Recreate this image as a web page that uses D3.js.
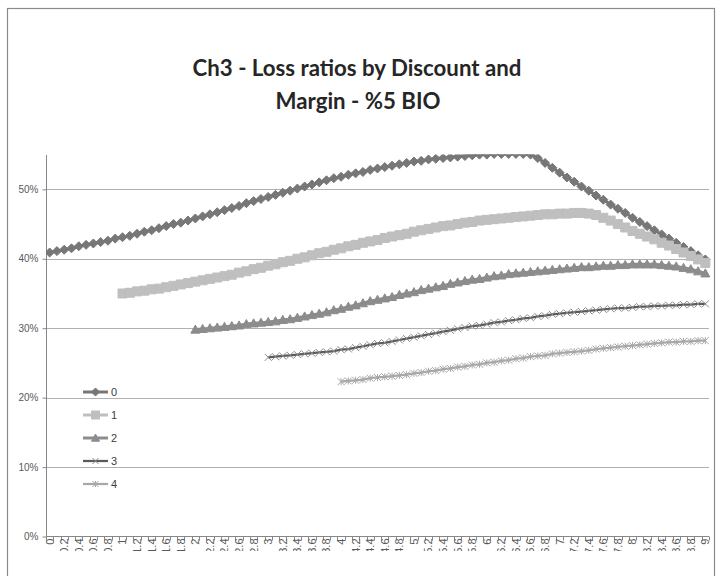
<!DOCTYPE html>
<html>
<head>
<meta charset="utf-8">
<script src="https://cdn.jsdelivr.net/npm/d3@7"></script>
<style>
  html, body { margin: 0; padding: 0; background: #fff; }
  svg { display: block; }
</style>
</head>
<body>
<svg id="chart" width="719" height="576"></svg>
<script>
// ---------------- DATA ----------------
const categories = ["0","0.1","0.2","0.3","0.4","0.5","0.6","0.7","0.8","0.9",
  "1","1.1","1.2","1.3","1.4","1.5","1.6","1.7","1.8","1.9",
  "2","2.1","2.2","2.3","2.4","2.5","2.6","2.7","2.8","2.9",
  "3","3.1","3.2","3.3","3.4","3.5","3.6","3.7","3.8","3.9",
  "4","4.1","4.2","4.3","4.4","4.5","4.6","4.7","4.8","4.9",
  "5","5.1","5.2","5.3","5.4","5.5","5.6","5.7","5.8","5.9",
  "6","6.1","6.2","6.3","6.4","6.5","6.6","6.7","6.8","6.9",
  "7","7.1","7.2","7.3","7.4","7.5","7.6","7.7","7.8","7.9",
  "8","8.1","8.2","8.3","8.4","8.5","8.6","8.7","8.8","8.9","9"];

const xTickLabels = ["0","0.2","0.4","0.6","0.8","1","1.2","1.4","1.6","1.8",
  "2","2.2","2.4","2.6","2.8","3","3.2","3.4","3.6","3.8",
  "4","4.2","4.4","4.6","4.8","5","5.2","5.4","5.6","5.8",
  "6","6.2","6.4","6.6","6.8","7","7.2","7.4","7.6","7.8",
  "8","8.2","8.4","8.6","8.8","9"];

const yTicks = [0, 0.1, 0.2, 0.3, 0.4, 0.5];
const yTickLabels = ["0%","10%","20%","30%","40%","50%"];

const seriesNames = ["0","1","2","3","4"];
const seriesStart = ["0","1","2","3","4"];   // first category of each series

const series0 = [0.409,0.411,0.413,0.415,0.418,0.420,0.422,0.424,0.426,0.429,
  0.431,0.433,0.436,0.439,0.441,0.444,0.447,0.450,0.452,0.455,
  0.458,0.461,0.464,0.467,0.470,0.473,0.476,0.480,0.483,0.486,
  0.489,0.492,0.495,0.498,0.501,0.504,0.507,0.510,0.513,0.516,
  0.518,0.521,0.523,0.525,0.528,0.530,0.532,0.534,0.536,0.538,
  0.540,0.541,0.543,0.544,0.545,0.546,0.547,0.548,0.549,0.550,
  0.550,0.551,0.551,0.551,0.551,0.551,0.550,0.545,0.538,0.531,
  0.524,0.517,0.511,0.504,0.498,0.491,0.485,0.478,0.472,0.466,
  0.459,0.453,0.447,0.441,0.435,0.429,0.423,0.417,0.411,0.405,0.399];

const series1 = [0.350,0.351,0.353,0.354,0.356,0.357,0.359,0.361,0.363,0.365,
  0.367,0.369,0.371,0.373,0.375,0.377,0.380,0.382,0.385,0.387,
  0.390,0.392,0.395,0.397,0.400,0.402,0.405,0.408,0.410,0.413,
  0.415,0.418,0.420,0.423,0.425,0.427,0.430,0.432,0.434,0.436,
  0.439,0.441,0.443,0.445,0.447,0.448,0.450,0.452,0.453,0.455,
  0.456,0.457,0.458,0.459,0.460,0.461,0.462,0.463,0.464,0.464,
  0.465,0.465,0.466,0.466,0.465,0.463,0.459,0.455,0.450,0.445,
  0.440,0.436,0.432,0.428,0.423,0.419,0.414,0.409,0.404,0.399,0.394];

const series2 = [0.298,0.299,0.300,0.301,0.302,0.303,0.304,0.306,0.307,0.308,
  0.309,0.310,0.312,0.313,0.315,0.317,0.319,0.321,0.323,0.326,
  0.328,0.331,0.333,0.336,0.339,0.341,0.343,0.345,0.348,0.350,
  0.352,0.355,0.357,0.359,0.361,0.364,0.366,0.368,0.370,0.371,
  0.373,0.375,0.376,0.378,0.379,0.380,0.381,0.382,0.383,0.384,
  0.385,0.386,0.387,0.388,0.388,0.389,0.390,0.390,0.391,0.391,
  0.392,0.392,0.392,0.392,0.391,0.390,0.389,0.387,0.385,0.382,0.379];

const series3 = [0.258,0.259,0.260,0.261,0.262,0.263,0.264,0.265,0.266,0.267,
  0.269,0.270,0.272,0.274,0.276,0.278,0.279,0.281,0.283,0.285,
  0.287,0.289,0.291,0.293,0.295,0.297,0.299,0.301,0.303,0.304,
  0.306,0.308,0.309,0.311,0.312,0.314,0.315,0.317,0.318,0.320,
  0.321,0.322,0.323,0.324,0.325,0.326,0.327,0.328,0.329,0.329,
  0.330,0.331,0.331,0.332,0.332,0.333,0.333,0.334,0.334,0.335,0.335];

const series4 = [0.223,0.224,0.225,0.226,0.228,0.229,0.230,0.231,0.232,0.233,
  0.235,0.236,0.238,0.239,0.241,0.242,0.244,0.245,0.247,0.248,
  0.250,0.251,0.253,0.254,0.256,0.257,0.259,0.260,0.261,0.263,
  0.264,0.265,0.266,0.267,0.268,0.270,0.271,0.272,0.273,0.274,
  0.275,0.276,0.277,0.278,0.279,0.280,0.280,0.281,0.281,0.282,0.282];

const titleLines = ["Ch3 - Loss ratios by Discount and", "Margin - %5 BIO"];

// ---------------- LAYOUT ----------------
const W = 719, H = 576;
const plot = { left: 46, right: 709, top: 154.6, bottom: 536.5 };
const svg = d3.select("#chart");

// outer chart border (chart continues below the visible frame)
svg.append("rect")
  .attr("x", 7.5).attr("y", 8.5).attr("width", 707).attr("height", 600)
  .attr("fill", "#fff").attr("stroke", "#8a8a8a").attr("stroke-width", 1.2);

// scales
const x = d3.scaleBand().domain(categories).range([plot.left, plot.right]).paddingInner(0).paddingOuter(0);
const cx = c => x(c) + x.bandwidth() / 2;
const y = d3.scaleLinear().domain([0, 0.55]).range([plot.bottom, plot.top]);

// title
const titleG = svg.append("g");
const tFont = "Lato, 'Open Sans', sans-serif";
const t1 = titleG.append("text").attr("x", 357).attr("y", 76)
  .attr("text-anchor", "middle").attr("font-family", tFont).attr("font-weight", 700)
  .attr("font-size", 21).attr("fill", "#262626").text(titleLines[0]);
// fit the title width to the reference (~329px)
const len1 = t1.node().getComputedTextLength();
const fs = 21 * 329 / len1;
t1.attr("font-size", fs);
titleG.append("text").attr("x", 358).attr("y", 109)
  .attr("text-anchor", "middle").attr("font-family", tFont).attr("font-weight", 700)
  .attr("font-size", fs).attr("fill", "#262626").text(titleLines[1]);

// gridlines
svg.append("g").selectAll("line").data(yTicks.filter(d => d > 0)).join("line")
  .attr("x1", plot.left).attr("x2", plot.right)
  .attr("y1", d => Math.round(y(d)) + 0.5).attr("y2", d => Math.round(y(d)) + 0.5)
  .attr("stroke", "#b0b0b0").attr("stroke-width", 1);

// y axis
const axisColor = "#878787";
const yAxisG = svg.append("g").attr("transform", `translate(${plot.left + 0.5},0)`)
  .call(d3.axisLeft(y).tickValues(yTicks).tickFormat((d, i) => yTickLabels[i]).tickSize(4).tickPadding(4));
yAxisG.selectAll(".domain").attr("stroke", axisColor).attr("d", `M0,${Math.round(plot.top)}V${plot.bottom}`);
yAxisG.selectAll(".tick line").attr("stroke", axisColor);
yAxisG.selectAll(".tick text").attr("fill", "#595959").attr("font-size", 10)
  .attr("font-family", "'Liberation Sans', Arial, sans-serif");

// x axis line & tick marks at category boundaries
const xAxisG = svg.append("g");
xAxisG.append("line").attr("x1", plot.left).attr("x2", plot.right)
  .attr("y1", plot.bottom).attr("y2", plot.bottom).attr("stroke", axisColor).attr("stroke-width", 1);
const boundaries = categories.map(c => x(c)).concat([plot.right]);
xAxisG.selectAll("line.tk").data(boundaries).join("line").attr("class", "tk")
  .attr("x1", d => Math.round(d) + 0.5).attr("x2", d => Math.round(d) + 0.5)
  .attr("y1", plot.bottom).attr("y2", plot.bottom + 4)
  .attr("stroke", axisColor).attr("stroke-width", 1);

// x labels, rotated, clipped (the reference cuts them off)
svg.append("clipPath").attr("id", "xlabclip").append("rect")
  .attr("x", 0).attr("y", plot.bottom).attr("width", W).attr("height", 14.5);
svg.append("g").attr("clip-path", "url(#xlabclip)")
  .selectAll("text").data(xTickLabels).join("text")
  .attr("transform", d => `translate(${cx(d)},${plot.bottom + 2}) rotate(-90)`)
  .attr("text-anchor", "end").attr("dy", "0.35em")
  .attr("font-family", "'Liberation Sans', Arial, sans-serif").attr("font-size", 11)
  .attr("fill", "#595959").text(d => d);

// ---------------- SERIES ----------------
const allSeries = [series0, series1, series2, series3, series4];
const styles = [
  { line: "#777777", lw: 3, marker: "diamond", mfill: "#777777", mstroke: "#777777", size: 9 },
  { line: "#bfbfbf", lw: 3, marker: "square", mfill: "#bfbfbf", mstroke: "#bfbfbf", size: 9 },
  { line: "#8c8c8c", lw: 3, marker: "triangle", mfill: "#8c8c8c", mstroke: "#8c8c8c", size: 9 },
  { line: "#5a5a5a", lw: 2.25, marker: "x", mfill: "none", mstroke: "#8a8a8a", size: 7 },
  { line: "#a8a8a8", lw: 2.25, marker: "star", mfill: "none", mstroke: "#a8a8a8", size: 7 }
];

function markerPath(type, s) {
  const h = s / 2;
  switch (type) {
    case "diamond": return `M0,${-h}L${h},0L0,${h}L${-h},0Z`;
    case "square": return `M${-h},${-h}H${h}V${h}H${-h}Z`;
    case "triangle": return `M0,${-h}L${h},${h * 0.8}L${-h},${h * 0.8}Z`;
    case "x": return `M${-h},${-h}L${h},${h}M${h},${-h}L${-h},${h}`;
    case "star": return `M${-h},${-h}L${h},${h}M${h},${-h}L${-h},${h}M0,${-h}V${h}`;
  }
}

svg.append("clipPath").attr("id", "plotclip").append("rect")
  .attr("x", plot.left).attr("y", plot.top).attr("width", plot.right - plot.left + 6)
  .attr("height", plot.bottom - plot.top);

const seriesG = svg.append("g").attr("clip-path", "url(#plotclip)");

allSeries.forEach((vals, si) => {
  const start = categories.indexOf(seriesStart[si]);
  const pts = vals.map((v, i) => ({ c: categories[start + i], v }));
  const st = styles[si];
  const g = seriesG.append("g");
  g.append("path").datum(pts)
    .attr("d", d3.line().x(d => cx(d.c)).y(d => y(d.v)))
    .attr("fill", "none").attr("stroke", st.line).attr("stroke-width", st.lw)
    .attr("stroke-linejoin", "round");
  g.selectAll("path.m").data(pts).join("path").attr("class", "m")
    .attr("transform", d => `translate(${cx(d.c)},${y(d.v)})`)
    .attr("d", markerPath(st.marker, st.size))
    .attr("fill", st.mfill).attr("stroke", st.mstroke).attr("stroke-width", 1);
});

// ---------------- LEGEND ----------------
const legend = svg.append("g").attr("transform", "translate(83,392)");
seriesNames.forEach((name, i) => {
  const st = styles[i];
  const g = legend.append("g").attr("transform", `translate(0,${i * 23})`);
  g.append("line").attr("x1", 0).attr("x2", 25).attr("y1", 0).attr("y2", 0)
    .attr("stroke", st.line).attr("stroke-width", st.lw);
  g.append("path").attr("transform", "translate(12.5,0)").attr("d", markerPath(st.marker, st.size - 1))
    .attr("fill", st.mfill).attr("stroke", st.mstroke).attr("stroke-width", 1);
  g.append("text").attr("x", 28).attr("y", 0).attr("dy", "0.35em")
    .attr("font-family", "'Liberation Sans', Arial, sans-serif").attr("font-size", 11)
    .attr("fill", "#404040").text(name);
});
</script>
</body>
</html>
